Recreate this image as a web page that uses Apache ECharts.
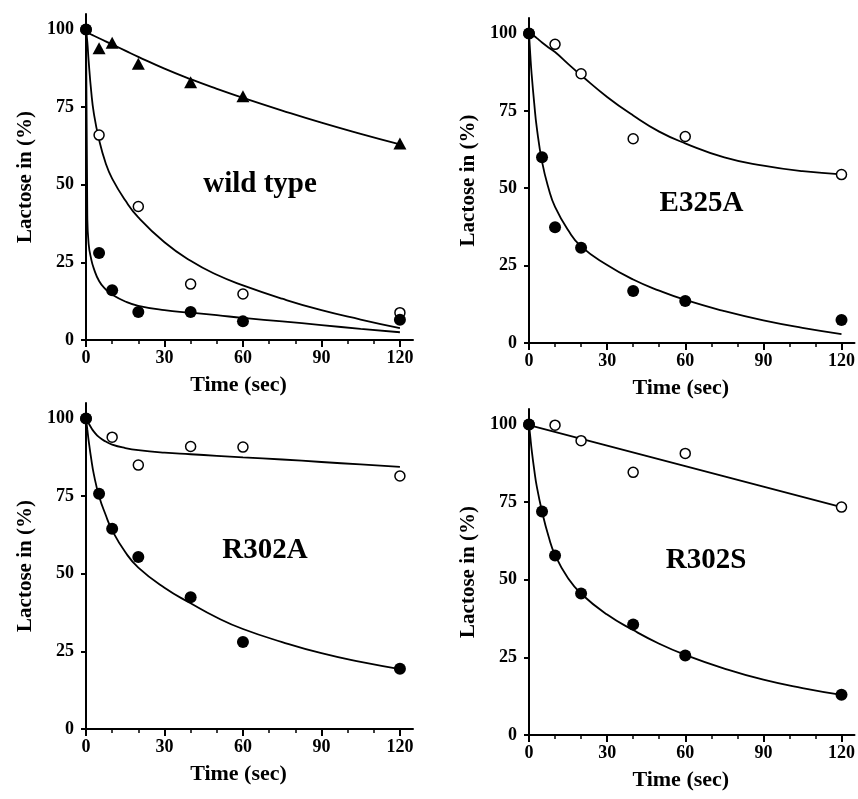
<!DOCTYPE html>
<html>
<head>
<meta charset="utf-8">
<script src="https://cdn.jsdelivr.net/npm/echarts@6/dist/echarts.min.js"></script>
<style>
html,body{margin:0;padding:0;background:#fff;}
#chart{width:858px;height:799px;}
</style>
</head>
<body>
<div id="chart"></div>
<script>
// ---------- DATA ----------
const xMajorTicks = [0, 30, 60, 90, 120];
const xMinorTicks = [10, 20, 40, 50, 70, 80, 100, 110];
const yTicks = [0, 25, 50, 75, 100];
const xTitle = 'Time (sec)';
const yTitle = 'Lactose in (%)';
const panelNames = ['wild type', 'E325A', 'R302A', 'R302S'];

// measured points
const wtTriT = [5, 10, 20, 40, 60, 120];
const wtTriV = [94, 95.7, 89, 83, 78.5, 63.3];
const wtOpenT = [0, 5, 20, 40, 60, 120];
const wtOpenV = [100, 66, 43, 18, 14.8, 8.8];
const wtFillT = [0, 5, 10, 20, 40, 60, 120];
const wtFillV = [100, 28, 16, 9, 9, 6, 6.5];

const e325OpenT = [0, 10, 20, 40, 60, 120];
const e325OpenV = [100, 96.5, 87, 66, 66.7, 54.4];
const e325FillT = [0, 5, 10, 20, 40, 60, 120];
const e325FillV = [100, 60, 37.4, 30.8, 16.8, 13.6, 7.4];

const r302aOpenT = [0, 10, 20, 40, 60, 120];
const r302aOpenV = [100, 94, 85, 91, 90.8, 81.5];
const r302aFillT = [0, 5, 10, 20, 40, 60, 120];
const r302aFillV = [100, 75.8, 64.5, 55.4, 42.4, 28, 19.4];

const r302sOpenT = [0, 10, 20, 40, 60, 120];
const r302sOpenV = [100, 99.8, 94.8, 84.6, 90.7, 73.4];
const r302sFillT = [0, 5, 10, 20, 40, 60, 120];
const r302sFillV = [100, 72, 57.8, 45.6, 35.6, 25.6, 13];

// fitted curves
const fitT = [0, 0.5, 1, 2, 3, 5, 7.5, 10, 15, 20, 30, 40, 50, 60, 75, 90, 105, 120];
const wtTriFit  = [99.2, 99, 98.8, 98.4, 98, 97.2, 96.2, 95.2, 93.2, 91.2, 87.4, 84, 80.9, 78, 73.9, 70, 66.4, 63];
const wtOpenFit = [100, 96, 90, 80, 73, 64.5, 57, 52, 45, 39.5, 31.5, 25.5, 21, 17.6, 13.3, 9.6, 6.6, 3.8];
const wtFillFit = [100, 40, 31, 26, 23, 19, 16.3, 14.6, 12.4, 11, 9.6, 8.8, 8, 7.1, 6, 4.8, 3.6, 2.5];
const e325OpenFit = [100.5, 100.2, 99.9, 99.2, 98.5, 97.1, 95.5, 94, 90.2, 86.5, 79.5, 73.5, 68.3, 64.5, 60, 57.3, 55.5, 54.5];
const e325FillFit = [100, 93, 87, 77.5, 69.5, 58.6, 50, 44, 36.5, 31.2, 25.2, 20.5, 16.9, 13.9, 10.3, 7.3, 4.9, 2.9];
const r302aOpenFit = [100, 99.2, 98.5, 97, 95.8, 94, 92.6, 91.6, 90.5, 89.8, 89, 88.5, 88, 87.5, 86.8, 86, 85.2, 84.4];
const r302aFillFit = [100, 96.5, 93, 87, 82, 75, 69, 64, 57, 52, 45.5, 40.5, 35.9, 32.2, 28, 24.4, 21.6, 19.3];
const r302sFillFit = [100, 96, 92, 85.5, 80, 72, 64, 58, 50.5, 45.5, 38.8, 33.8, 29.4, 25.8, 21.4, 17.8, 15.1, 12.9];
const r302sOpenFitT = [0, 30, 60, 90, 120];
const r302sOpenFit = [99.8, 93.2, 86.6, 80, 73.4];

// ---------- LAYOUT / STYLE ----------
const FONT = '"Liberation Serif", "Times New Roman", serif';
const grids = [
  {left: 86, top: 14, width: 327, height: 326},
  {left: 529, top: 18, width: 326, height: 325},
  {left: 86, top: 403, width: 327, height: 326},
  {left: 529, top: 409, width: 326, height: 326}
];
const labelPos = [[260, 184.5], [701.5, 204], [265, 551], [706, 561]];

function pairs(t, v) { return t.map((x, i) => [x, v[i]]); }

const panels = [
  {fits: [[fitT, wtTriFit], [fitT, wtOpenFit], [fitT, wtFillFit]],
   pts: [['tri', wtTriT, wtTriV], ['open', wtOpenT, wtOpenV], ['fill', wtFillT, wtFillV]]},
  {fits: [[fitT, e325OpenFit], [fitT, e325FillFit]],
   pts: [['open', e325OpenT, e325OpenV], ['fill', e325FillT, e325FillV]]},
  {fits: [[fitT, r302aOpenFit], [fitT, r302aFillFit]],
   pts: [['open', r302aOpenT, r302aOpenV], ['fill', r302aFillT, r302aFillV]]},
  {fits: [[r302sOpenFitT, r302sOpenFit], [fitT, r302sFillFit]],
   pts: [['open', r302sOpenT, r302sOpenV], ['fill', r302sFillT, r302sFillV]]}
];

const xAxes = [], yAxes = [], series = [], graphics = [];
panels.forEach((p, i) => {
  xAxes.push({
    type: 'value', gridIndex: i, min: 0, max: 125, position: 'bottom',
    axisLine: {lineStyle: {color: '#000', width: 2}},
    axisTick: {customValues: xMajorTicks, length: 7, lineStyle: {color: '#000', width: 2}},
    axisLabel: {customValues: xMajorTicks, color: '#000', fontFamily: FONT, fontWeight: 'bold', fontSize: 18, margin: 9},
    splitLine: {show: false},
    name: xTitle, nameLocation: 'middle', nameGap: 34,
    nameTextStyle: {color: '#000', fontFamily: FONT, fontWeight: 'bold', fontSize: 22, padding: [0, 22, 0, 0]}
  });
  xAxes.push({
    type: 'value', gridIndex: i, min: 0, max: 125, position: 'bottom',
    axisLine: {show: false},
    axisTick: {customValues: xMinorTicks, length: 4, lineStyle: {color: '#000', width: 1.5}},
    axisLabel: {show: false},
    splitLine: {show: false}
  });
  yAxes.push({
    type: 'value', gridIndex: i, min: 0, max: 105,
    axisLine: {lineStyle: {color: '#000', width: 2}},
    axisTick: {customValues: yTicks, length: 5, lineStyle: {color: '#000', width: 2}},
    axisLabel: {customValues: yTicks, color: '#000', fontFamily: FONT, fontWeight: 'bold', fontSize: 18, margin: 12},
    splitLine: {show: false},
    name: yTitle, nameLocation: 'middle', nameGap: 50,
    nameTextStyle: {color: '#000', fontFamily: FONT, fontWeight: 'bold', fontSize: 21}
  });
  p.fits.forEach(f => {
    series.push({
      type: 'line', xAxisIndex: 2 * i, yAxisIndex: i,
      data: pairs(f[0], f[1]), showSymbol: false, smooth: 0.5,
      lineStyle: {color: '#000', width: 1.8}, silent: true, z: 2
    });
  });
  p.pts.forEach(s => {
    const kind = s[0];
    const st = kind === 'tri'
      ? {symbol: 'triangle', symbolSize: [13, 12], itemStyle: {color: '#000', opacity: 1}}
      : kind === 'open'
        ? {symbol: 'circle', symbolSize: 10, itemStyle: {color: '#fff', borderColor: '#000', borderWidth: 1.5, opacity: 1}}
        : {symbol: 'circle', symbolSize: 12, itemStyle: {color: '#000', opacity: 1}};
    series.push(Object.assign({
      type: 'scatter', xAxisIndex: 2 * i, yAxisIndex: i,
      data: pairs(s[1], s[2]), silent: true, z: kind === 'fill' ? 4 : 3
    }, st));
  });
  graphics.push({
    type: 'text', x: labelPos[i][0], y: labelPos[i][1],
    style: {text: panelNames[i], fill: '#000', font: 'bold 29px ' + FONT, align: 'center', verticalAlign: 'middle'}
  });
});

const chart = echarts.init(document.getElementById('chart'), null, {renderer: 'canvas'});
chart.setOption({
  animation: false,
  backgroundColor: '#fff',
  grid: grids.map(g => Object.assign({containLabel: false}, g)),
  xAxis: xAxes,
  yAxis: yAxes,
  series: series,
  graphic: graphics
});
</script>
</body>
</html>
